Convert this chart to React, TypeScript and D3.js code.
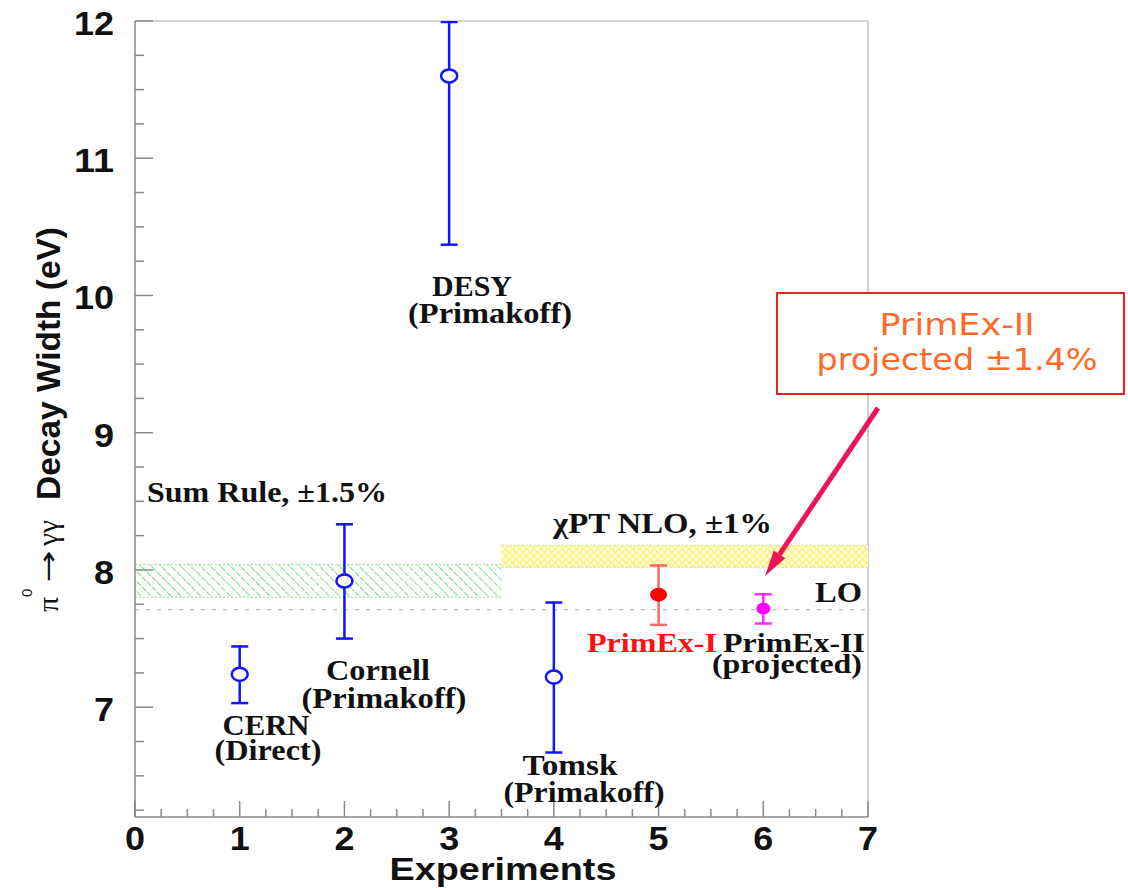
import React from 'react';
import * as d3 from 'd3';

// pi0 -> gamma gamma decay width measurements
const experiments = ['CERN', 'Cornell', 'DESY', 'Tomsk', 'PrimEx-I', 'PrimEx-II'];
const expIndex = [1, 2, 3, 4, 5, 6];
const decayWidth = [7.24, 7.92, 11.6, 7.22, 7.82, 7.72];
const decayError = [0.21, 0.42, 1.23, 0.55, 0.22, 0.11];
const filledMarker = [false, false, false, false, true, true];

// theory bands
const sumRuleCenter = 7.92;
const sumRulePct = 1.5;
const sumRuleRange = [0, 3.5];
const chptCenter = 8.1;
const chptPct = 1.0;
const chptRange = [3.5, 7];
const loValue = 7.71;

const xTicks = [0, 1, 2, 3, 4, 5, 6, 7];
const yTicks = [7, 8, 9, 10, 11, 12];

const W = 1128;
const H = 888;

const markerColor = ['#1414ff', '#1414ff', '#1414ff', '#1414ff', '#ff0000', '#ff00ff'];
const barColor = ['#1414ff', '#1414ff', '#1414ff', '#1414ff', '#f26a6a', '#ff2cff'];
const markerRx = [8, 8, 8, 8, 8.5, 7];
const markerRy = [6.5, 6.5, 6.5, 6.5, 7, 6];

const serif = '"Liberation Serif", "Times New Roman", serif';
const sans = '"Liberation Sans", Arial, sans-serif';

// a bold serif annotation stretched to the width seen in the picture
const Note = ({ x, y, len, text, fill = '#111', anchor = 'middle', size = 29 }) => (
  <text x={x} y={y} fontFamily={serif} fontWeight="bold" fontSize={size} fill={fill}
    textAnchor={anchor} textLength={len} lengthAdjust="spacingAndGlyphs">{text}</text>
);

const App = () => {
  const x = d3.scaleLinear().domain([0, 7]).range([135, 868]);
  const y = d3.scaleLinear().domain([6.2, 12]).range([817, 21]);
  const [y0, y1] = y.domain();

  const xMinor = d3.range(0, 7.001, 0.25).filter(v => !Number.isInteger(v));
  const yMinor = d3.range(6.25, 12.001, 0.25).filter(v => !Number.isInteger(v));

  const band = (center, pct) => [center * (1 - pct / 100), center * (1 + pct / 100)];
  const [srLo, srHi] = band(sumRuleCenter, sumRulePct);
  const [chLo, chHi] = band(chptCenter, chptPct);

  // callout arrow
  const arrowFrom = [878, 408];
  const arrowTip = [765, 576];
  const dx = arrowTip[0] - arrowFrom[0];
  const dy = arrowTip[1] - arrowFrom[1];
  const L = Math.hypot(dx, dy);
  const ux = dx / L, uy = dy / L;
  const headLen = 26, headHalf = 7;
  const base = [arrowTip[0] - ux * headLen, arrowTip[1] - uy * headLen];
  const head = [
    arrowTip,
    [base[0] - uy * headHalf, base[1] + ux * headHalf],
    [base[0] + uy * headHalf, base[1] - ux * headHalf],
  ];

  return (
    <svg width={W} height={H} style={{ position: 'absolute', left: 0, top: 0, background: '#fff' }}>
      <defs>
        <pattern id="greenHatch" width="7" height="7" patternUnits="userSpaceOnUse" patternTransform="rotate(-45)">
          <line x1="0" y1="0" x2="0" y2="7" stroke="#4fd156" strokeWidth="1.5" strokeDasharray="3 1.2" />
        </pattern>
        <pattern id="yellowHatch" width="5" height="5" patternUnits="userSpaceOnUse" patternTransform="rotate(45)">
          <rect width="5" height="5" fill="#fffbd0" />
          <line x1="0" y1="0" x2="0" y2="5" stroke="#f4ea3c" strokeWidth="1.2" />
          <line x1="0" y1="0" x2="5" y2="0" stroke="#f4ea3c" strokeWidth="1.2" />
        </pattern>
        <clipPath id="plotClip">
          <rect x={x(0)} y={y(y1)} width={x(7) - x(0)} height={y(y0) - y(y1)} />
        </clipPath>
      </defs>

      {/* frame */}
      <line x1={x(0)} x2={x(7)} y1={y(y1)} y2={y(y1)} stroke="#c8c8c8" strokeWidth={1.5} />
      <line x1={x(7)} x2={x(7)} y1={y(y1)} y2={y(y0)} stroke="#c0c0c0" strokeWidth={1.5} />

      {/* theory bands */}
      <g clipPath="url(#plotClip)">
        <rect x={x(sumRuleRange[0])} y={y(srHi)} width={x(sumRuleRange[1]) - x(sumRuleRange[0])}
          height={y(srLo) - y(srHi)} fill="url(#greenHatch)" />
        {[srLo, srHi].map((v, i) => (
          <line key={'sr' + i} x1={x(sumRuleRange[0])} x2={x(sumRuleRange[1])} y1={y(v)} y2={y(v)}
            stroke="#8ee08e" strokeWidth={1} strokeDasharray="2 2" />
        ))}
        <rect x={x(chptRange[0])} y={y(chHi)} width={x(chptRange[1]) - x(chptRange[0])}
          height={y(chLo) - y(chHi)} fill="url(#yellowHatch)" />
        {[chLo, chHi].map((v, i) => (
          <line key={'ch' + i} x1={x(chptRange[0])} x2={x(chptRange[1])} y1={y(v)} y2={y(v)}
            stroke="#d8d8a0" strokeWidth={1} strokeDasharray="2 2" />
        ))}
        <line x1={x(0)} x2={x(7)} y1={y(loValue)} y2={y(loValue)}
          stroke="#a8a8a8" strokeWidth={1.2} strokeDasharray="4 7" />
      </g>

      {/* axes */}
      <g stroke="#8a8a8a" strokeWidth={1.5}>
        <line x1={x(0)} x2={x(0)} y1={y(y1)} y2={y(y0)} />
        <line x1={x(0)} x2={x(7)} y1={y(y0)} y2={y(y0)} />
        {yTicks.map(t => <line key={'yt' + t} x1={x(0)} x2={x(0) + 18} y1={y(t)} y2={y(t)} />)}
        {yMinor.map(t => <line key={'ym' + t} x1={x(0)} x2={x(0) + 9} y1={y(t)} y2={y(t)} />)}
        {xTicks.map(t => <line key={'xt' + t} x1={x(t)} x2={x(t)} y1={y(y0)} y2={y(y0) - 16} />)}
        {xMinor.map(t => <line key={'xm' + t} x1={x(t)} x2={x(t)} y1={y(y0)} y2={y(y0) - 8} />)}
      </g>

      {/* tick labels */}
      <g fontFamily={sans} fontWeight="bold" fontSize={33} fill="#111">
        {yTicks.map(t => (
          <text key={'yl' + t} x={114} y={y(t) + 14} textAnchor="end"
            textLength={String(t).length * 20} lengthAdjust="spacingAndGlyphs">{t}</text>
        ))}
        {xTicks.map(t => (
          <text key={'xl' + t} x={x(t)} y={850} textAnchor="middle"
            textLength={20} lengthAdjust="spacingAndGlyphs">{t}</text>
        ))}
      </g>

      {/* axis titles */}
      <text x={503} y={880} textAnchor="middle" fontFamily={sans} fontWeight="bold" fontSize={32}
        fill="#111" textLength={227} lengthAdjust="spacingAndGlyphs">Experiments</text>
      <text transform="translate(58,612) rotate(-90)" fontFamily={serif} fontSize={30} fill="#111">π</text>
      <text transform="translate(32,597) rotate(-90)" fontFamily={sans} fontSize={15} fill="#111">0</text>
      <text transform="translate(57,582) rotate(-90)" fontFamily='"DejaVu Sans", sans-serif' fontSize={26}
        fill="#111" textLength={32} lengthAdjust="spacingAndGlyphs">→</text>
      <text transform="translate(58,546) rotate(-90)" fontFamily={serif} fontSize={30} fill="#111"
        textLength={26} lengthAdjust="spacingAndGlyphs">γγ</text>
      <text transform="translate(60,500) rotate(-90)" fontFamily={sans} fontWeight="bold" fontSize={33}
        fill="#111" textLength={273} lengthAdjust="spacingAndGlyphs">Decay Width (eV)</text>

      {/* measurements */}
      <g clipPath="url(#plotClip)">
        {experiments.map((name, i) => {
          const cx = x(expIndex[i]);
          const top = y(Math.min(decayWidth[i] + decayError[i], y1));
          const bot = y(Math.max(decayWidth[i] - decayError[i], y0));
          const cy = y(decayWidth[i]);
          return (
            <g key={name}>
              <line x1={cx} x2={cx} y1={top} y2={bot} stroke={barColor[i]} strokeWidth={2.5} />
              <line x1={cx - 8.5} x2={cx + 8.5} y1={top + 1} y2={top + 1} stroke={barColor[i]} strokeWidth={2.5} />
              <line x1={cx - 8.5} x2={cx + 8.5} y1={bot} y2={bot} stroke={barColor[i]} strokeWidth={2.5} />
              <ellipse cx={cx} cy={cy} rx={markerRx[i]} ry={markerRy[i]}
                fill={filledMarker[i] ? markerColor[i] : '#fff'}
                stroke={markerColor[i]} strokeWidth={filledMarker[i] ? 0 : 2.5} />
            </g>
          );
        })}
      </g>

      {/* annotations */}
      <Note x={472} y={296} len={80} text="DESY" />
      <Note x={490} y={323} len={164} text="(Primakoff)" />
      <Note x={378} y={680} len={104} text="Cornell" />
      <Note x={384} y={708} len={165} text="(Primakoff)" />
      <Note x={266} y={735} len={87} text="CERN" />
      <Note x={268} y={760} len={107} text="(Direct)" />
      <Note x={570} y={775} len={95} text="Tomsk" />
      <Note x={584} y={802} len={161} text="(Primakoff)" />
      <Note x={147} y={502} len={240} text="Sum Rule, ±1.5%" anchor="start" />
      <Note x={553} y={533} len={219} text="χPT NLO, ±1%" anchor="start" />
      <Note x={815} y={602} len={47} text="LO" anchor="start" />
      <Note x={587} y={652} len={130} text="PrimEx-I" anchor="start" fill="#ff1010" size={28} />
      <Note x={723} y={652} len={142} text="PrimEx-II" anchor="start" size={28} />
      <Note x={712} y={673} len={150} text="(projected)" anchor="start" size={27} />

      {/* callout */}
      <rect x={777} y={293} width={347} height={101} fill="#fff" stroke="#e82020" strokeWidth={2} />
      <g fontFamily='"DejaVu Sans", Verdana, sans-serif' fontSize={30} fill="#ff6a2a" textAnchor="middle">
        <text x={957} y={335} textLength={155} lengthAdjust="spacingAndGlyphs">PrimEx-II</text>
        <text x={957} y={370} textLength={281} lengthAdjust="spacingAndGlyphs">projected ±1.4%</text>
      </g>
      <line x1={arrowFrom[0]} y1={arrowFrom[1]} x2={base[0]} y2={base[1]} stroke="#ec1556" strokeWidth={5} />
      <polygon points={head.map(p => p.join(',')).join(' ')} fill="#ec1556" />
    </svg>
  );
};

export default App;
